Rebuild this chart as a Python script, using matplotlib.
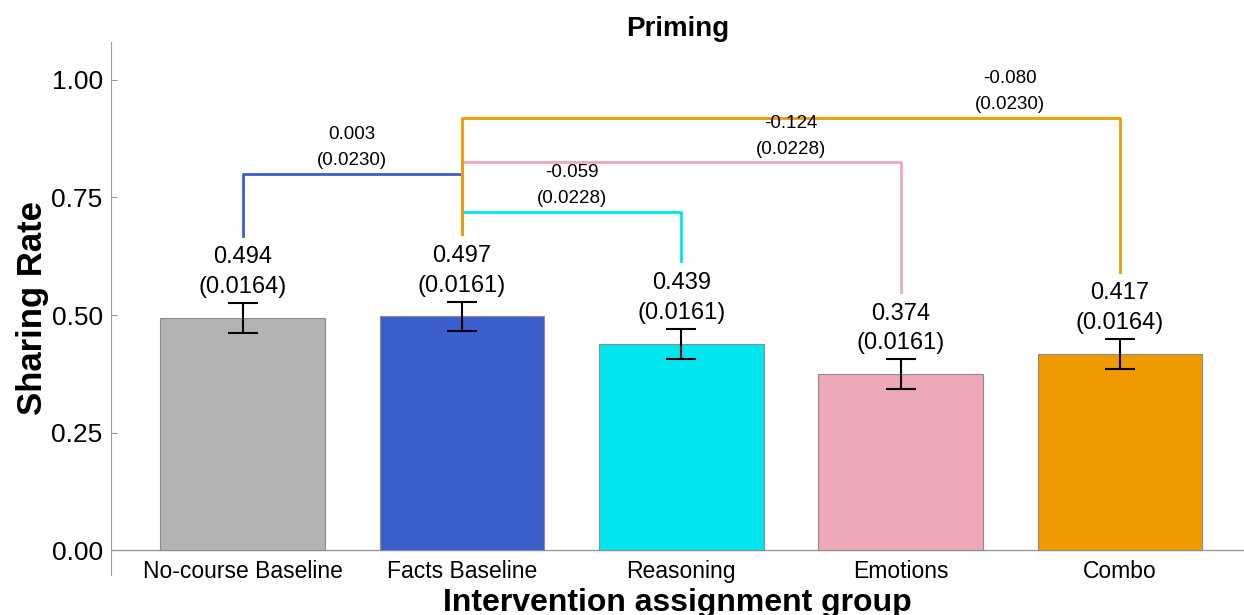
import matplotlib
matplotlib.use("Agg")
import matplotlib.pyplot as plt

plt.rcParams['font.family'] = ['Liberation Sans', 'DejaVu Sans']

grupos = ["No-course Baseline", "Facts Baseline", "Reasoning", "Emotions", "Combo"]
taxas = [0.494, 0.497, 0.439, 0.374, 0.417]
erros_padrao = [0.0164, 0.0161, 0.0161, 0.0161, 0.0164]
cores = ["#B3B3B3", "#3A5FCD", "#00E5EE", "#EEA9B8", "#EE9A00"]

# comparações: (grupo a, grupo b, diferença, erro, altura do colchete, cor)
comp_a = [0, 1, 1, 1]
comp_b = [1, 2, 3, 4]
diferencas = ["0.003", "-0.059", "-0.124", "-0.080"]
erros_dif = ["0.0230", "0.0228", "0.0228", "0.0230"]
alturas = [0.80, 0.72, 0.825, 0.92]
cores_comp = ["#3A5FCD", "#00E5EE", "#EEA9B8", "#EE9A00"]

fig = plt.figure(figsize=(12.44, 6.15), dpi=100)
ax = fig.add_axes([0.0892, 0.065, 0.9108, 0.867])

x = list(range(len(grupos)))
ic = [1.96 * e for e in erros_padrao]
ax.bar(x, taxas, width=0.75, color=cores, edgecolor="#8c8c8c", linewidth=0.8, zorder=2)
ax.errorbar(x, taxas, yerr=ic, fmt="none", ecolor="black", elinewidth=1.5,
            capsize=11, capthick=1.5, zorder=3)

for i in x:
    topo = taxas[i] + ic[i]
    ax.text(i, topo + 0.097, f"{taxas[i]:.3f}", ha="center", va="center", fontsize=17)
    ax.text(i, topo + 0.034, f"({erros_padrao[i]:.4f})", ha="center", va="center", fontsize=17)

for k in range(len(comp_a)):
    a, b, h = comp_a[k], comp_b[k], alturas[k]
    ax.plot([a, a, b, b], [taxas[a] + 0.175, h, h, taxas[b] + 0.175],
            color=cores_comp[k], linewidth=2, zorder=1)
    ax.text(b - 0.5, h + 0.028, f"({erros_dif[k]})", ha="center", va="center", fontsize=13.5)
    ax.text(b - 0.5, h + 0.083, diferencas[k], ha="center", va="center", fontsize=13.5)

ax.axhline(0, color="#999999", linewidth=1, zorder=1)
ax.set_xlim(-0.6, 4.565)
ax.set_ylim(-0.053, 1.081)
ax.set_yticks([0, 0.25, 0.5, 0.75, 1.0])
ax.set_yticklabels(["0.00", "0.25", "0.50", "0.75", "1.00"])
ax.set_xticks(x)
ax.set_xticklabels(grupos)
ax.tick_params(axis="y", direction="in", length=4, color="#999999", labelsize=19, pad=6)
ax.tick_params(axis="x", length=0, labelsize=16.5, pad=-11)
for lado in ["top", "right", "bottom"]:
    ax.spines[lado].set_visible(False)
ax.spines["left"].set_color("#999999")

ax.set_title("Priming", fontsize=20, fontweight="bold", pad=3)
ax.set_ylabel("Sharing Rate", fontsize=25, fontweight="bold", labelpad=2)
ax.set_xlabel("Intervention assignment group", fontsize=23, fontweight="bold", labelpad=4)

fig.savefig("out.png", dpi=100)
